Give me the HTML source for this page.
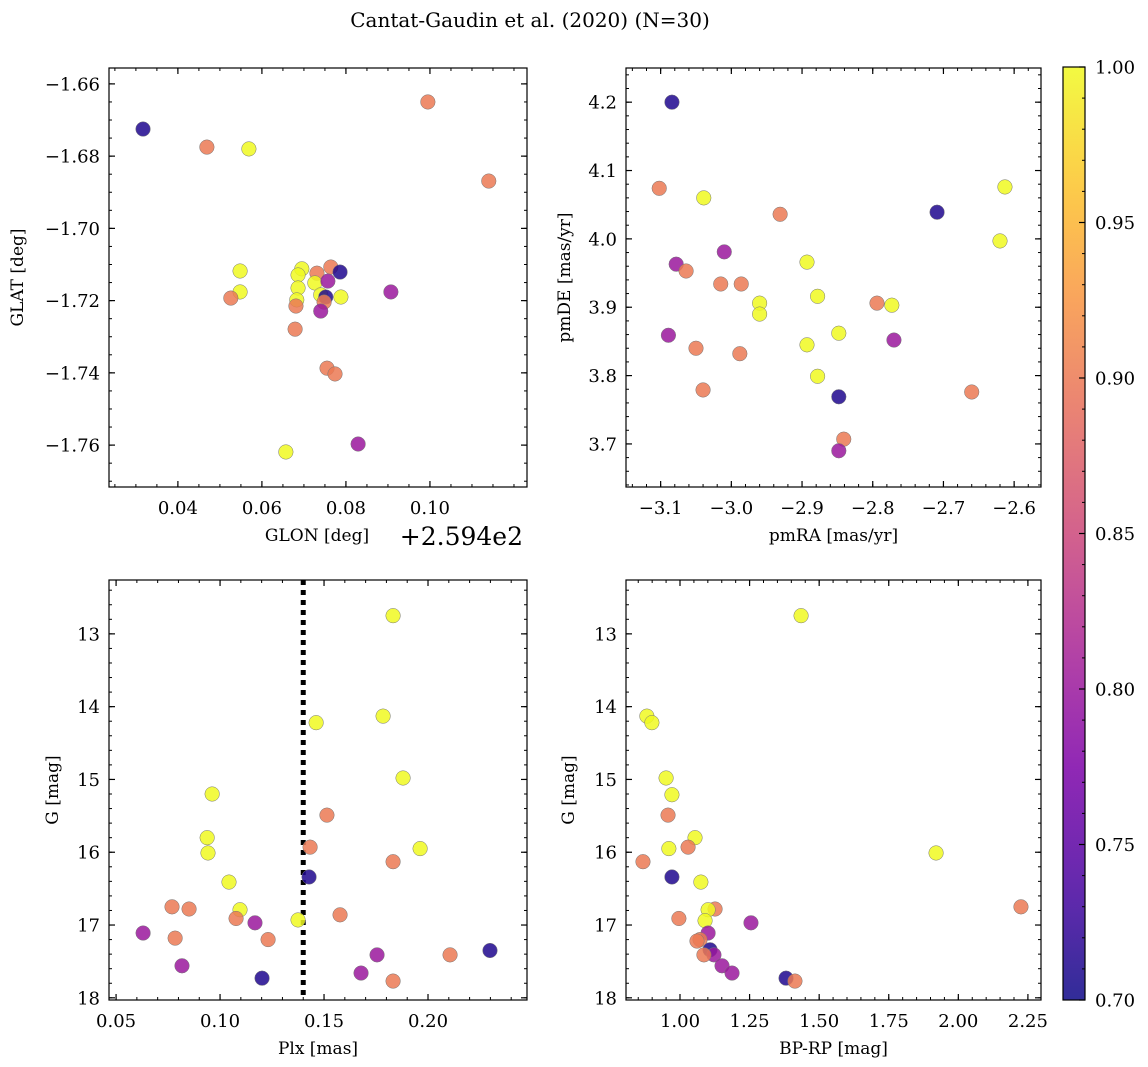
<!DOCTYPE html>
<html><head><meta charset="utf-8">
<style>
html,body{margin:0;padding:0;background:#fff;}
svg{display:block;font-family:"DejaVu Serif","Liberation Serif",serif;}
</style></head>
<body>
<svg id="fig" width="1148" height="1067" viewBox="0 0 1148 1067" xmlns="http://www.w3.org/2000/svg">
<text x="530" y="27" font-size="20" text-anchor="middle">Cantat-Gaudin et al. (2020) (N=30)</text>
</svg>
<script>
// ---- data (probability color value per star) ----
const p1Glon = [0.0317,0.0469,0.0569,0.0995,0.1140,0.0548,0.0548,0.0526,0.0695,0.0686,0.0731,0.0764,0.0786,0.0726,0.0757,0.0686,0.0740,0.0752,0.0748,0.0740,0.0788,0.0683,0.0681,0.0679,0.0907,0.0755,0.0774,0.0657,0.0829];
const p1Glat = [-1.6725,-1.6775,-1.6780,-1.6650,-1.6869,-1.7118,-1.7176,-1.7193,-1.7112,-1.7129,-1.7124,-1.7107,-1.7121,-1.7151,-1.7146,-1.7165,-1.7184,-1.7190,-1.7204,-1.7229,-1.7190,-1.7198,-1.7215,-1.7279,-1.7176,-1.7387,-1.7403,-1.7619,-1.7597];
const p1Prob = [0.71,0.9,1.0,0.9,0.9,1.0,1.0,0.9,1.0,1.0,0.9,0.9,0.71,1.0,0.8,1.0,1.0,0.71,0.9,0.8,1.0,1.0,0.9,0.9,0.8,0.9,0.9,1.0,0.8];

const p2PmRA = [-3.084,-3.102,-3.039,-2.931,-2.709,-2.613,-2.620,-3.010,-3.078,-3.064,-2.893,-3.015,-2.986,-2.960,-2.960,-2.878,-2.794,-2.773,-3.089,-2.848,-2.770,-3.050,-2.893,-2.988,-3.040,-2.878,-2.660,-2.848,-2.841,-2.848];
const p2PmDE = [4.200,4.074,4.060,4.036,4.039,4.076,3.997,3.981,3.963,3.953,3.966,3.934,3.934,3.906,3.890,3.916,3.906,3.903,3.859,3.862,3.852,3.840,3.845,3.832,3.779,3.799,3.776,3.769,3.707,3.690];
const p2Prob = [0.71,0.9,1.0,0.9,0.71,1.0,1.0,0.8,0.8,0.9,1.0,0.9,0.9,1.0,1.0,1.0,0.9,1.0,0.8,1.0,0.8,0.9,1.0,0.9,0.9,1.0,0.9,0.71,0.9,0.8];

const p3Plx = [0.1832,0.1462,0.1784,0.1880,0.0962,0.1514,0.0938,0.1433,0.1962,0.0942,0.1832,0.1428,0.1043,0.0769,0.0851,0.1096,0.1577,0.1077,0.1375,0.1168,0.0630,0.0784,0.1231,0.2298,0.2106,0.1755,0.0817,0.1678,0.1202,0.1832];
const p3G = [12.75,14.22,14.13,14.98,15.20,15.49,15.80,15.93,15.95,16.01,16.13,16.34,16.41,16.75,16.78,16.79,16.86,16.91,16.93,16.97,17.11,17.18,17.20,17.35,17.41,17.41,17.56,17.66,17.73,17.77];
const p3Prob = [1.0,1.0,1.0,1.0,1.0,0.9,1.0,0.9,1.0,1.0,0.9,0.71,1.0,0.9,0.9,1.0,0.9,0.9,1.0,0.8,0.8,0.9,0.9,0.71,0.9,0.8,0.8,0.8,0.71,0.9];
const plxCut = 0.14;

const p4Color = [1.435,0.881,0.899,0.950,0.971,0.957,1.054,1.029,0.960,0.867,0.971,1.075,1.126,1.101,1.090,0.996,1.255,1.101,1.072,1.061,1.108,1.122,1.086,1.151,1.187,1.381,1.413,1.920,2.225];
const p4G = [12.75,14.13,14.22,14.98,15.21,15.49,15.80,15.93,15.95,16.13,16.34,16.41,16.78,16.79,16.94,16.91,16.97,17.11,17.20,17.22,17.34,17.41,17.41,17.56,17.66,17.73,17.77,16.01,16.75];
const p4Prob = [1.0,1.0,1.0,1.0,1.0,0.9,1.0,0.9,1.0,0.9,0.71,1.0,0.9,1.0,1.0,0.9,0.8,0.8,0.9,0.9,0.71,0.8,0.9,0.8,0.8,0.71,0.9,1.0,0.9];

const cbTicks = [0.70,0.75,0.80,0.85,0.90,0.95,1.00];

// ---- helpers ----
const NS = "http://www.w3.org/2000/svg";
const svg = document.getElementById('fig');
function mk(tag, attrs, parent){ const e=document.createElementNS(NS,tag); for(const k in attrs) e.setAttribute(k,attrs[k]); (parent||svg).appendChild(e); return e; }
const plasmaStops=[[0,[13,8,135]],[0.125,[75,3,161]],[0.25,[125,3,168]],[0.375,[168,34,150]],[0.5,[203,70,121]],[0.625,[229,107,93]],[0.75,[248,148,65]],[0.875,[253,195,40]],[1,[240,249,33]]];
function plasma(t){ t=Math.max(0,Math.min(1,t)); for(let i=1;i<plasmaStops.length;i++){ if(t<=plasmaStops[i][0]){ const a=plasmaStops[i-1],b=plasmaStops[i]; const f=(t-a[0])/(b[0]-a[0]); const c=a[1].map((v,j)=>Math.round(v+(b[1][j]-v)*f)); return `rgb(${c[0]},${c[1]},${c[2]})`; } } return 'rgb(240,249,33)'; }
function cnorm(v){ return (v-0.7)/0.3; }
function fmt(v,d){ const s=Math.abs(v).toFixed(d); return (v<-1e-9?'\u2212':'')+s; }
const TF=18, LF=17;

function panel(o){
  const {name,x0,x1,y0,y1,xmin,xmax,ymin,ymax,yInv}=o;
  const g=mk('g',{});  
  const sx=v=>x0+(v-xmin)/(xmax-xmin)*(x1-x0);
  const sy=v=> yInv ? y0+(v-ymin)/(ymax-ymin)*(y1-y0) : y1-(v-ymin)/(ymax-ymin)*(y1-y0);
  const eps=1e-9;
  for(let v=Math.ceil(xmin/o.xminor-eps)*o.xminor; v<=xmax+eps; v+=o.xminor){ const X=sx(v); mk('line',{x1:X,x2:X,y1:y1,y2:y1-3,stroke:'#000','stroke-width':1},g); mk('line',{x1:X,x2:X,y1:y0,y2:y0+3,stroke:'#000','stroke-width':1},g); }
  for(let v=Math.ceil(ymin/o.yminor-eps)*o.yminor; v<=ymax+eps; v+=o.yminor){ const Y=sy(v); mk('line',{x1:x0,x2:x0+3,y1:Y,y2:Y,stroke:'#000','stroke-width':1},g); mk('line',{x1:x1,x2:x1-3,y1:Y,y2:Y,stroke:'#000','stroke-width':1},g); }
  o.xticks.forEach(v=>{ const X=sx(v); mk('line',{x1:X,x2:X,y1:y1,y2:y1-6,stroke:'#000','stroke-width':1.2},g); mk('line',{x1:X,x2:X,y1:y0,y2:y0+6,stroke:'#000','stroke-width':1.2},g);
    const t=mk('text',{x:X,y:y1+27,'font-size':TF,'text-anchor':'middle'},g); t.textContent=fmt(v,o.xd);   });
  o.yticks.forEach(v=>{ const Y=sy(v); mk('line',{x1:x0,x2:x0+6,y1:Y,y2:Y,stroke:'#000','stroke-width':1.2},g); mk('line',{x1:x1,x2:x1-6,y1:Y,y2:Y,stroke:'#000','stroke-width':1.2},g);
    const t=mk('text',{x:x0-9,y:Y+6.5,'font-size':TF,'text-anchor':'end'},g); t.textContent=fmt(v,o.yd);   });
  if(o.vline!==undefined){ const X=sx(o.vline); const l=mk('line',{x1:X,x2:X,y1:y0,y2:y1,stroke:'#000','stroke-width':5,'stroke-dasharray':'5 5'},g);   }
  o.xs.forEach((xv,i)=>{ const c=mk('circle',{cx:sx(xv),cy:sy(o.ys[i]),r:7.3,fill:plasma(cnorm(o.cs[i])),'fill-opacity':0.85,stroke:'#777','stroke-width':0.5},g);
      });
  mk('rect',{x:x0,y:y0,width:x1-x0,height:y1-y0,fill:'none',stroke:'#000','stroke-width':1.2},g);
  const xl=mk('text',{x:o.xlx||(x0+x1)/2,y:y1+54,'font-size':LF,'text-anchor':'middle'},g); xl.textContent=o.xlabel;  
  const yx=o.ylx, yy=(y0+y1)/2;
  const yl=mk('text',{x:yx,y:yy,'font-size':LF,'text-anchor':'middle',transform:`rotate(-90 ${yx} ${yy})`},g); yl.textContent=o.ylabel;  
}

panel({name:'glon-glat-panel',x0:109,x1:527,y0:68,y1:487,xmin:0.0236,xmax:0.1231,ymin:-1.7716,ymax:-1.6556,
  xticks:[0.04,0.06,0.08,0.10],yticks:[-1.66,-1.68,-1.70,-1.72,-1.74,-1.76],xminor:0.005,yminor:0.005,xd:2,yd:2,
  xs:p1Glon,ys:p1Glat,cs:p1Prob,xlabel:'GLON [deg]',xlx:317,ylabel:'GLAT [deg]',ylx:23});
const off=mk('text',{x:523,y:545,'font-size':25,'text-anchor':'end'}); off.textContent='+2.594e2';  

panel({name:'proper-motion-panel',x0:626,x1:1041,y0:68,y1:487,xmin:-3.149,xmax:-2.562,ymin:3.637,ymax:4.25,
  xticks:[-3.1,-3.0,-2.9,-2.8,-2.7,-2.6],yticks:[3.7,3.8,3.9,4.0,4.1,4.2],xminor:0.02,yminor:0.02,xd:1,yd:1,
  xs:p2PmRA,ys:p2PmDE,cs:p2Prob,xlabel:'pmRA [mas/yr]',ylabel:'pmDE [mas/yr]',ylx:570});

panel({name:'parallax-magnitude-panel',x0:109,x1:527,y0:580,y1:1000,xmin:0.0466,xmax:0.2476,ymin:12.26,ymax:18.03,yInv:true,
  xticks:[0.05,0.10,0.15,0.20],yticks:[13,14,15,16,17,18],xminor:0.01,yminor:0.2,xd:2,yd:0,vline:plxCut,
  xs:p3Plx,ys:p3G,cs:p3Prob,xlabel:'Plx [mas]',ylabel:'G [mag]',ylx:58});

panel({name:'color-magnitude-panel',x0:626,x1:1041,y0:580,y1:1000,xmin:0.806,xmax:2.297,ymin:12.26,ymax:18.03,yInv:true,
  xticks:[1.00,1.25,1.50,1.75,2.00,2.25],yticks:[13,14,15,16,17,18],xminor:0.05,yminor:0.2,xd:2,yd:0,
  xs:p4Color,ys:p4G,cs:p4Prob,xlabel:'BP-RP [mag]',ylabel:'G [mag]',ylx:574});

(function(){
  const cx0=1063,cx1=1085,cy0=67,cy1=1000;
  const g=mk('g',{});  
  const defs=mk('defs',{},g); const lg=mk('linearGradient',{id:'cbg',x1:0,y1:1,x2:0,y2:0},defs);
  for(let i=0;i<=20;i++){ mk('stop',{offset:i/20,'stop-color':plasma(i/20)},lg); }
  mk('rect',{x:cx0,y:cy0,width:cx1-cx0,height:cy1-cy0,fill:'url(#cbg)','fill-opacity':0.85},g);
  const sy=v=>cy1-(v-0.7)/0.3*(cy1-cy0);
  for(let v=0.70;v<=1.0001;v+=0.01){ const Y=sy(v); mk('line',{x1:cx1,x2:cx1-3,y1:Y,y2:Y,stroke:'#000','stroke-width':1},g); }
  cbTicks.forEach(v=>{ const Y=sy(v); mk('line',{x1:cx1,x2:cx1-6,y1:Y,y2:Y,stroke:'#000','stroke-width':1.2},g);
    const t=mk('text',{x:cx1+10,y:Y+6.5,'font-size':TF},g); t.textContent=v.toFixed(2);   });
  mk('rect',{x:cx0,y:cy0,width:cx1-cx0,height:cy1-cy0,fill:'none',stroke:'#000','stroke-width':1.2},g);
})();
</script>
</body></html>
